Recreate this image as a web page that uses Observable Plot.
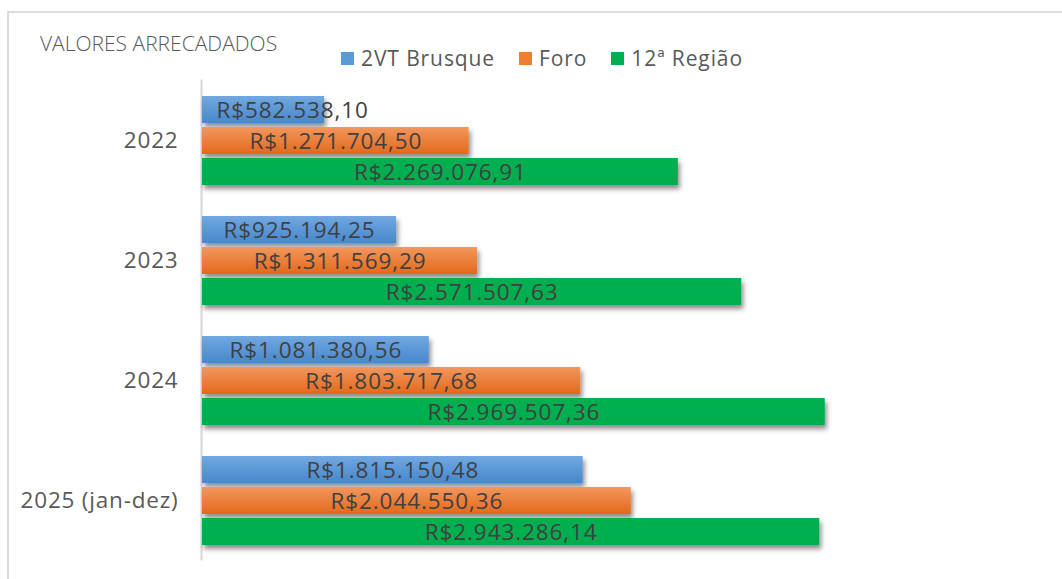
<!DOCTYPE html>
<html>
<head>
<meta charset="utf-8">
<script src="https://cdn.jsdelivr.net/npm/d3@7"></script>
<script src="https://cdn.jsdelivr.net/npm/@observablehq/plot@0.6"></script>
<style>
  html, body { margin: 0; padding: 0; background: #fff; }
  #wrap { position: relative; width: 1062px; height: 579px; overflow: hidden; font-family: "Open Sans", sans-serif; }
  #border { position: absolute; left: 7px; top: 11px; width: 2000px; height: 2000px;
            border-left: 2px solid #dcdcdc; border-top: 2px solid #dcdcdc; }
  #header { position: relative; height: 70px; }
  #title { position: absolute; left: 40px; top: 33px; font-size: 21px; line-height: 21px;
           font-weight: 300; color: #595959; white-space: nowrap; }
  #legend { position: absolute; left: 341px; top: 48px; display: flex; align-items: center;
            font-size: 21px; line-height: 21px; color: #595959; letter-spacing: 0.9px; white-space: nowrap; }
  .item { display: flex; align-items: center; margin-right: 24px; }
  .sw { width: 13px; height: 13px; margin-right: 7px; display: inline-block; }
  #chart { position: relative; }
  #chart svg g[aria-label="fy-axis tick label"] text { letter-spacing: 0.8px; }
  #chart svg g[aria-label="text"] text { letter-spacing: 0.9px; }
</style>
</head>
<body>
<div id="wrap">
  <div id="border"></div>
  <div id="header">
    <div id="title">VALORES ARRECADADOS</div>
    <div id="legend"></div>
  </div>
  <div id="chart"></div>
</div>
<script>
// ---- data ----
const years = ["2022", "2023", "2024", "2025 (jan-dez)"];
const seriesNames = ["2VT Brusque", "Foro", "12ª Região"];
const brusque = [582538.10, 925194.25, 1081380.56, 1815150.48];
const foro = [1271704.50, 1311569.29, 1803717.68, 2044550.36];
const regiao = [2269076.91, 2571507.63, 2969507.36, 2943286.14];
const swatchColors = ["#5b9bd5", "#ed7d31", "#00b050"];
const fillRefs = ["url(#gBlue)", "url(#gOrange)", "url(#gGreen)"];

const seriesValues = [brusque, foro, regiao];
const data = years.flatMap((y, i) =>
  seriesNames.map((s, j) => ({ year: y, series: s, value: seriesValues[j][i] }))
);

function brl(v) {
  const [int, dec] = v.toFixed(2).split(".");
  return "R$" + int.replace(/\B(?=(\d{3})+(?!\d))/g, ".") + "," + dec;
}
const fits = d => d.value > 700000;

// legend
const legend = document.getElementById("legend");
seriesNames.forEach((s, j) => {
  const it = document.createElement("div");
  it.className = "item";
  it.innerHTML = `<span class="sw" style="background:${swatchColors[j]}"></span><span>${s}</span>`;
  legend.appendChild(it);
});

const chart = Plot.plot({
  width: 1062,
  height: 509,
  marginLeft: 202,
  marginRight: 126,
  marginTop: 9,
  marginBottom: 19,
  style: { background: "transparent", fontFamily: "Open Sans", fontSize: "22.5px", color: "#595959" },
  x: { domain: [0, 3500000], axis: null },
  y: { domain: seriesNames, axis: null, paddingInner: 0.143, paddingOuter: 0 },
  fy: { domain: years, label: null, axis: "left", tickSize: 0, tickPadding: 24, paddingInner: 0.25, paddingOuter: 0.125 },
  color: { domain: seriesNames, range: fillRefs },
  marks: [
    Plot.ruleX([0], { stroke: "#d6d6d6", strokeWidth: 2, dx: -1, insetTop: -15.5, insetBottom: -15.5 }),
    Plot.barX(data, { x: "value", y: "series", fy: "year", fill: "series" }),
    Plot.text(data.filter(fits), {
      x: d => d.value / 2, y: "series", fy: "year", text: d => brl(d.value),
      fill: "#404040", fontSize: 22.5, dy: 1
    }),
    Plot.text(data.filter(d => !fits(d)), {
      x: 0, y: "series", fy: "year", text: d => brl(d.value),
      fill: "#404040", fontSize: 22.5, textAnchor: "start", dx: 14, dy: 1
    })
  ]
});

const ns = "http://www.w3.org/2000/svg";
const defs = document.createElementNS(ns, "defs");
defs.innerHTML = `
  <linearGradient id="gBlue" x1="0" y1="0" x2="0" y2="1">
    <stop offset="0" stop-color="#71a8e0"/><stop offset="1" stop-color="#4787cc"/>
  </linearGradient>
  <linearGradient id="gOrange" x1="0" y1="0" x2="0" y2="1">
    <stop offset="0" stop-color="#f3975d"/><stop offset="1" stop-color="#e2691b"/>
  </linearGradient>
  <linearGradient id="gGreen" x1="0" y1="0" x2="0" y2="1">
    <stop offset="0" stop-color="#00b050"/><stop offset="1" stop-color="#00ad4e"/>
  </linearGradient>
  <filter id="shadow" x="-5%" y="-30%" width="115%" height="180%">
    <feDropShadow dx="2" dy="4" stdDeviation="2.5" flood-color="#000" flood-opacity="0.45"/>
  </filter>`;
chart.insertBefore(defs, chart.firstChild);
chart.querySelectorAll('g[aria-label="bar"] rect').forEach(r => r.setAttribute("filter", "url(#shadow)"));

document.getElementById("chart").appendChild(chart);
</script>
</body>
</html>
